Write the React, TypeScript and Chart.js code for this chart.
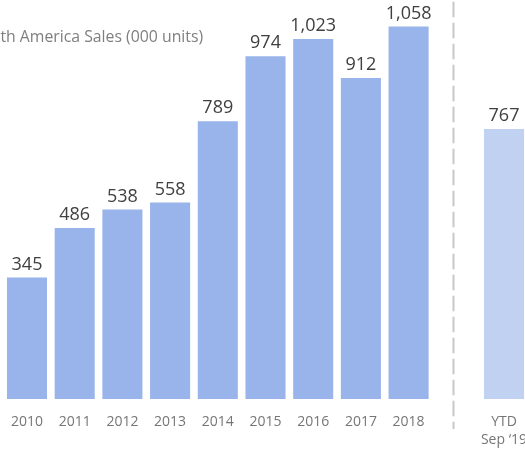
import { useEffect, useRef } from 'react';
import { Chart, registerables } from 'chart.js';

Chart.register(...registerables);

const categories: (string | string[])[] = ['2010', '2011', '2012', '2013', '2014', '2015', '2016', '2017', '2018', '', ['YTD', 'Sep \u201819']];
const sales: (number | null)[] = [345, 486, 538, 558, 789, 974, 1023, 912, 1058, null, 767];
const valueLabels = ['345', '486', '538', '558', '789', '974', '1,023', '912', '1,058', '', '767'];
const barColors = ['#99B4EA', '#99B4EA', '#99B4EA', '#99B4EA', '#99B4EA', '#99B4EA', '#99B4EA', '#99B4EA', '#99B4EA', 'rgba(0,0,0,0)', '#C0D1F2'];
const titleText = 'North America Sales (000 units)';
const yMin = 0;
const yMax = 1100;

const overlay = {
  id: 'overlay',
  afterDatasetsDraw(chart: any) {
    const { ctx, scales, chartArea } = chart;
    const x = scales.x;
    const meta = chart.getDatasetMeta(0);
    ctx.save();
    // value labels
    ctx.font = '500 18px "Open Sans"';
    ctx.fillStyle = '#404040';
    ctx.textAlign = 'center';
    ctx.textBaseline = 'alphabetic';
    meta.data.forEach((bar: any, i: number) => {
      if (sales[i] == null) return;
      ctx.fillText(valueLabels[i], bar.x, bar.y - 8);
    });
    // dashed divider in the gap
    const dx = Math.round(x.getPixelForValue(8.93)) + 0.5;
    ctx.strokeStyle = '#C8C8C8';
    ctx.lineWidth = 2;
    ctx.setLineDash([15.6, 5.4]);
    ctx.beginPath();
    ctx.moveTo(dx, 1.7);
    ctx.lineTo(dx, chartArea.bottom + 30);
    ctx.stroke();
    ctx.setLineDash([]);
    // title
    ctx.font = '15.8px "Open Sans"';
    ctx.fillStyle = '#7F7F7F';
    ctx.textAlign = 'right';
    ctx.textBaseline = 'middle';
    ctx.fillText(titleText, chartArea.left + 200, 37);
    ctx.restore();
  },
};

export default function App() {
  const ref = useRef<HTMLCanvasElement | null>(null);
  useEffect(() => {
    if (!ref.current) return;
    const chart = new Chart(ref.current, {
      type: 'bar',
      data: {
        labels: categories as any,
        datasets: [
          {
            data: sales,
            backgroundColor: barColors,
            borderWidth: 0,
            categoryPercentage: 1,
            barPercentage: 0.84,
          },
        ],
      },
      options: {
        responsive: false,
        animation: false,
        layout: { padding: { left: 43.15, right: 32.15, top: 11.8, bottom: 17.6 } },
        plugins: { legend: { display: false }, tooltip: { enabled: false }, title: { display: false } },
        scales: {
          x: {
            offset: true,
            grid: { display: false, drawTicks: false },
            border: { display: false },
            ticks: {
              color: '#767676',
              font: { family: '"Open Sans"', size: 14, lineHeight: 1.3 },
              padding: 13.5,
              maxRotation: 0,
              autoSkip: false,
            },
          },
          y: {
            display: false,
            min: yMin,
            max: yMax,
          },
        },
      },
      plugins: [overlay],
    });
    return () => chart.destroy();
  }, []);
  return (
    <div style={{ position: 'fixed', left: 0, top: 0, width: 525, height: 449, overflow: 'hidden', background: '#fff' }}>
      <canvas ref={ref} width={600} height={480} style={{ position: 'absolute', left: -40, top: 0, width: 600, height: 480 }} />
    </div>
  );
}
